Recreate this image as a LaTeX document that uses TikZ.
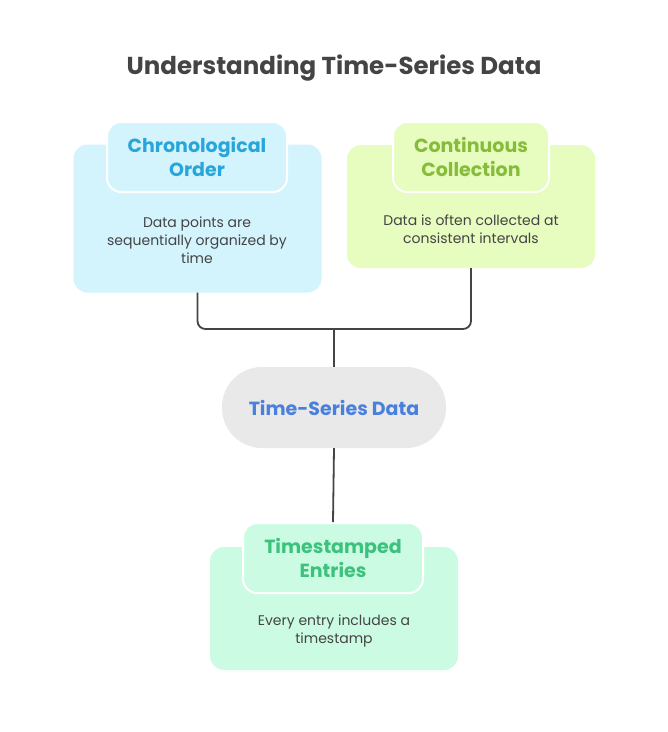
\documentclass[tikz,border=0pt]{standalone}
\usepackage{fontspec}
\setmainfont{Poppins}
\usetikzlibrary{positioning}
\definecolor{ink}{HTML}{444444}
\definecolor{bluefill}{HTML}{D3F3FD}
\definecolor{bluetext}{HTML}{28A6D9}
\definecolor{limefill}{HTML}{E7FCBF}
\definecolor{limetext}{HTML}{86BC3A}
\definecolor{mintfill}{HTML}{CBFCE3}
\definecolor{minttext}{HTML}{3CC27C}
\definecolor{pillfill}{HTML}{E9E9E9}
\definecolor{pilltext}{HTML}{4A80DD}
\tikzset{
  bodybox/.style={rectangle, rounded corners=14pt, draw=none, inner sep=0pt},
  headbox/.style={rectangle, rounded corners=14pt, draw=white, line width=2pt, inner sep=0pt, align=center, font=\fontsize{19}{24}\selectfont\bfseries},
  bodytext/.style={align=center, text=ink, font=\fontsize{14}{18}\selectfont},
  conn/.style={draw=ink, line width=1.8pt},
}
\begin{document}
\begin{tikzpicture}[x=1pt,y=-1pt]
\useasboundingbox (0,0) rectangle (668,732);
\fill[white] (0,0) rectangle (668,732);
\node[text=ink, font=\fontsize{24.5}{28}\selectfont\bfseries] (title) at (334,68) {Understanding Time-Series Data};
% left
\node[bodybox, fill=bluefill, minimum width=248pt, minimum height=148pt] (lb) at (197.5,218.5) {};
\node[headbox, fill=bluefill, text=bluetext, minimum width=180pt, minimum height=70pt] (lh) at (197,157) {Chronological\\Order};
\node[bodytext] (lt) at (197,240) {Data points are\\sequentially organized by\\time};
% right
\node[bodybox, fill=limefill, minimum width=248pt, minimum height=123pt] (rb) at (471,206.5) {};
\node[headbox, fill=limefill, text=limetext, minimum width=156pt, minimum height=70pt] (rh) at (471,157) {Continuous\\Collection};
\node[bodytext] (rt) at (471,229.5) {Data is often collected at\\consistent intervals};
% center
\node[rectangle, rounded corners=40pt, fill=pillfill, minimum width=224pt, minimum height=81pt, text=pilltext, font=\fontsize{19}{23}\selectfont\bfseries] (c) at (334,407.5) {Time-Series Data};
% bottom
\node[bodybox, fill=mintfill, minimum width=248pt, minimum height=123pt] (bb) at (334,608.5) {};
\node[headbox, fill=mintfill, text=minttext, minimum width=180pt, minimum height=70pt] (bh) at (333,558) {Timestamped\\Entries};
\node[bodytext] (bt) at (334,631) {Every entry includes a\\timestamp};
% connectors
\coordinate (j) at (334,329);
\draw[conn, rounded corners=8pt] (lb.south) |- (j) -| (rb.south);
\draw[conn] (j) -- (c.north);
\draw[conn] (c.south) -- (bh.north);
\end{tikzpicture}
\end{document}
